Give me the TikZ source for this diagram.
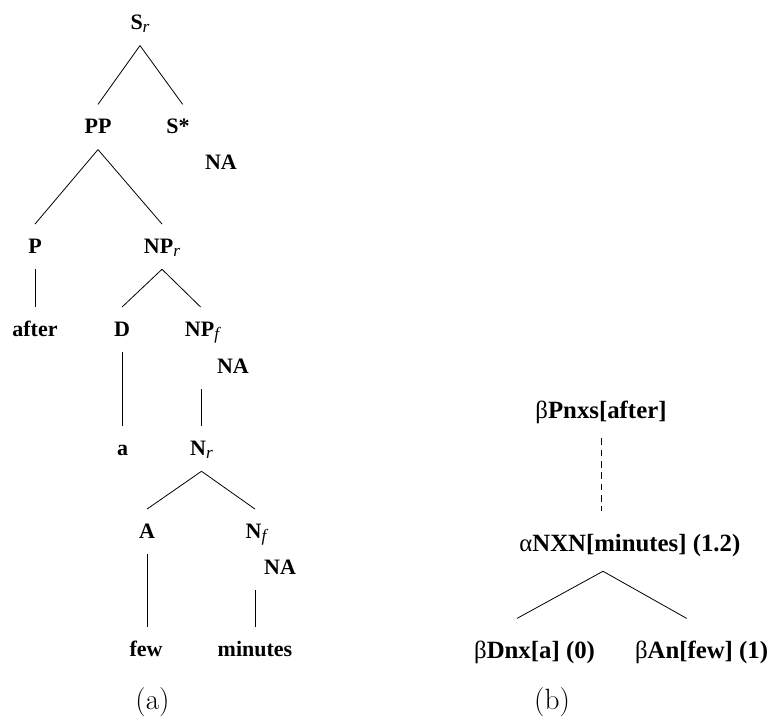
\documentclass[tikz,border=0pt]{standalone}
\usepackage{fontspec}
\newfontfamily\tms{Liberation Serif}
\newcommand\lsub[1]{\raisebox{-0.3ex}{\fontsize{13}{14}\selectfont\itshape\mdseries #1}}
\begin{document}
\begin{tikzpicture}[x=0.75pt,y=-0.75pt,
  lab/.style={font=\fontsize{16.5}{18}\selectfont\tms\bfseries, inner sep=0pt, anchor=base},
  tn/.style={lab, text height=21.5pt, text depth=12pt},
  na/.style={lab, text height=11pt, text depth=12pt},
  rn/.style={lab, font=\fontsize{18.6}{20}\selectfont\tms\bfseries, text height=29.5pt, text depth=15pt},
  edge/.style={line width=0.6pt},
  dedge/.style={edge, dash pattern=on 5pt off 3.5pt},
  capt/.style={font=\fontsize{22}{24}\selectfont, inner sep=0pt, anchor=base}]
\useasboundingbox (0,0) rectangle (778,717);
% left tree
\node[tn] (Sr) at (140,29.3) {S\lsub{r}};
\node[tn] (PP) at (98,133.3) {PP};
\node[tn] (Ss) at (178,133.3) {S*};
\node[na] (NA1) at (221,169) {NA};
\node[tn] (P) at (35,253) {P};
\node[tn] (NPr) at (162,253) {NP\lsub{r}};
\node[tn] (after) at (35,336) {after};
\node[tn] (D) at (122,336) {D};
\node[tn] (NPf) at (202,336) {NP\lsub{f}};
\node[na] (NA2) at (233,373) {NA};
\node[tn] (a) at (122.5,455) {a};
\node[tn] (Nr) at (201.5,455) {N\lsub{r}};
\node[tn] (A) at (147,538) {A};
\node[tn] (Nf) at (256,538) {N\lsub{f}};
\node[na] (NA3) at (280,574) {NA};
\node[tn] (few) at (146,656) {few};
\node[tn] (min) at (255,656) {minutes};
\draw[edge] (Sr.south) -- (PP.north);
\draw[edge] (Sr.south) -- ([xshift=3.5pt]Ss.north);
\draw[edge] (PP.south) -- (P.north);
\draw[edge] (PP.south) -- (NPr.north);
\draw[edge] (P.south) -- (P.south |- after.north);
\draw[edge] (NPr.south) -- (D.north);
\draw[edge] (NPr.south) -- ([xshift=-1pt]NPf.north);
\draw[edge] (D.south) -- (D.south |- a.north);
\draw[edge] (Nr.north |- NA2.south) -- (Nr.north);
\draw[edge] (Nr.south) -- (A.north);
\draw[edge] (Nr.south) -- ([xshift=-0.75pt]Nf.north);
\draw[edge] (A.south) -- (A.south |- few.north);
\draw[edge] (min.north |- NA3.south) -- (min.north);
% right tree
\node[rn] (Pn) at (601,418) {{\mdseries β}Pnxs[after]};
\node[rn] (NXN) at (603,551) {{\mdseries α}NXN[minutes]\rlap{ (1.2)}};
\node[rn] (Dnx) at (517,658) {{\mdseries β}Dnx[a]\rlap{ (0)}};
\node[rn] (An) at (684,658) {{\mdseries β}An[few]\rlap{ (1)}};
\draw[dedge] (Pn.south) -- (Pn.south |- NXN.north);
\draw[edge] (NXN.south) -- (Dnx.north);
\draw[edge] (NXN.south) -- ([xshift=2pt]An.north);
% captions
\node[capt] (capa) at (152.5,709) {(a)};
\node[capt] (capb) at (552,709) {(b)};
\end{tikzpicture}
\end{document}
